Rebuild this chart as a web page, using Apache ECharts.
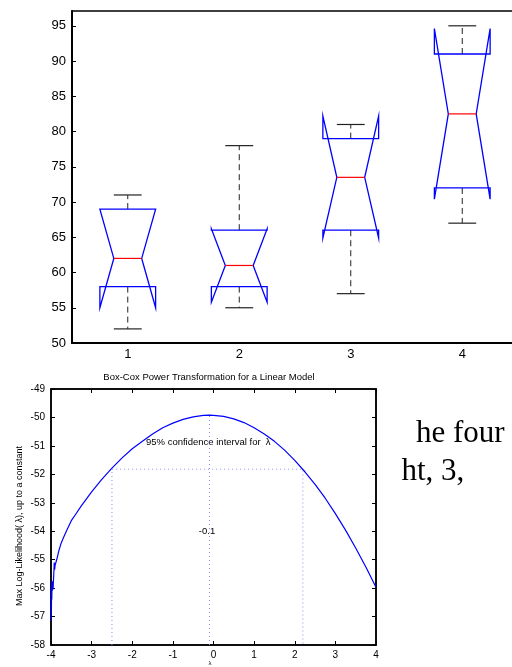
<!DOCTYPE html>
<html><head><meta charset="utf-8">
<script src="https://cdn.jsdelivr.net/npm/echarts@6/dist/echarts.min.js"></script>
<style>html,body{margin:0;padding:0;background:#fff}#c{width:512px;height:667px}</style>
</head><body><div id="c"></div>
<script>
// ---- Top chart: notched box plot ----
const categories = ['1', '2', '3', '4'];
const lowerWhisker = [52, 55, 57, 67];
const q1 = [58, 58, 66, 72];
const median = [62, 61, 73.5, 82.5];
const q3 = [69, 66, 79, 91];
const upperWhisker = [71, 78, 81, 95];
const notchLow = [55, 55.8, 64.9, 70.4];
const notchHigh = [69, 66.2, 82.2, 94.6];

// ---- Bottom chart: Box-Cox profile log-likelihood ----
const lambda = [-4.00, -3.995, -3.99, -3.985, -3.98, -3.975, -3.97, -3.96, -3.95, -3.94, -3.93, -3.92, -3.91, -3.90, -3.88, -3.85, -3.80, -3.75, -3.70, -3.60, -3.50, -3.40, -3.25, -3.00, -2.75, -2.50, -2.25, -2.00, -1.75, -1.50, -1.25, -1.00, -0.75, -0.50, -0.25, -0.10, 0.00, 0.25, 0.50, 0.75, 1.00, 1.25, 1.50, 1.75, 2.00, 2.25, 2.50, 2.75, 3.00, 3.25, 3.50, 3.75, 4.00];
const logLik = [-57.15, -56.0, -56.9, -55.8, -56.4, -55.75, -56.1, -55.8, -56.05, -55.75, -55.45, -55.1, -55.35, -55.2, -55.1, -54.95, -54.65, -54.42, -54.25, -53.93, -53.63, -53.42, -53.1, -52.62, -52.18, -51.78, -51.42, -51.1, -50.84, -50.58, -50.36, -50.2, -50.07, -49.98, -49.93, -49.92, -49.925, -49.96, -50.05, -50.18, -50.36, -50.58, -50.84, -51.15, -51.51, -51.91, -52.35, -52.84, -53.38, -53.96, -54.59, -55.26, -55.97];
const ciLow = -2.5;
const ciHigh = 2.2;
const ciLevel = -51.82;
const lambdaHat = -0.1;
const maxLogLik = -49.92;
const yMinBC = -58, yMaxBC = -49;

const chart = echarts.init(document.getElementById('c'), null, {renderer: 'canvas'});
const FONT = 'Liberation Sans, Arial, Helvetica, sans-serif';

function renderBox(params, api) {
  const i = api.value(0);
  const band = api.size([1, 0])[0];
  const cx = api.coord([i, api.value(3)])[0];
  const w = band * 0.25, n = band * 0.125, cap = band * 0.125;
  const y = v => api.coord([i, v])[1];
  const wlo = api.value(1), bq1 = api.value(2), med = api.value(3), bq3 = api.value(4), whi = api.value(5), nlo = api.value(6), nhi = api.value(7);
  const blue = {fill: 'none', stroke: '#0000ff', lineWidth: 1.3};
  const dash = {stroke: '#222', lineWidth: 1, lineDash: [6, 4]};
  const solid = {stroke: '#222', lineWidth: 1.2};
  return {
    type: 'group',
    children: [
      {type: 'line', shape: {x1: cx, y1: y(bq3), x2: cx, y2: y(whi)}, style: dash},
      {type: 'line', shape: {x1: cx, y1: y(bq1), x2: cx, y2: y(wlo)}, style: dash},
      {type: 'line', shape: {x1: cx - cap, y1: y(whi), x2: cx + cap, y2: y(whi)}, style: solid},
      {type: 'line', shape: {x1: cx - cap, y1: y(wlo), x2: cx + cap, y2: y(wlo)}, style: solid},
      {type: 'polygon', shape: {points: [
        [cx - w, y(bq1)], [cx - w, y(nlo)], [cx - n, y(med)], [cx - w, y(nhi)], [cx - w, y(bq3)],
        [cx + w, y(bq3)], [cx + w, y(nhi)], [cx + n, y(med)], [cx + w, y(nlo)], [cx + w, y(bq1)]
      ]}, style: blue},
      {type: 'line', shape: {x1: cx - n, y1: y(med), x2: cx + n, y2: y(med)}, style: {stroke: '#ff0000', lineWidth: 1.2}}
    ]
  };
}

const boxData = categories.map((c, i) => [i, lowerWhisker[i], q1[i], median[i], q3[i], upperWhisker[i], notchLow[i], notchHigh[i]]);

const axisLineBlack = (w) => ({show: true, onZero: false, lineStyle: {color: '#000', width: w}});

const option = {
  animation: false,
  backgroundColor: '#fff',
  grid: [
    {left: 72, top: 11, width: 446, height: 332, show: true, borderColor: '#000', borderWidth: 1.5, backgroundColor: 'transparent', containLabel: false, outerBoundsMode: 'none'},
    {left: 51, top: 389, width: 325, height: 256, show: true, borderColor: '#000', borderWidth: 1.5, backgroundColor: 'transparent', containLabel: false, outerBoundsMode: 'none'}
  ],
  xAxis: [
    {gridIndex: 0, type: 'category', data: categories, boundaryGap: true,
     axisLine: axisLineBlack(2), axisTick: {show: false},
     axisLabel: {color: '#000', fontSize: 13, fontFamily: FONT, margin: 5}, splitLine: {show: false}},
    {gridIndex: 1, type: 'value', min: -4, max: 4, interval: 1, position: 'bottom',
     axisLine: axisLineBlack(1.5), axisTick: {show: true, inside: true, length: 4, lineStyle: {color: '#000'}},
     axisLabel: {color: '#000', fontSize: 10, fontFamily: FONT, margin: 5}, splitLine: {show: false}},
    {gridIndex: 1, type: 'value', min: -4, max: 4, interval: 1, position: 'top',
     axisLine: axisLineBlack(1.5), axisTick: {show: true, inside: true, length: 4, lineStyle: {color: '#000'}},
     axisLabel: {show: false}, splitLine: {show: false}}
  ],
  yAxis: [
    {gridIndex: 0, type: 'value', min: 50, max: 97.1, interval: 5,
     axisLine: axisLineBlack(2), axisTick: {show: true, inside: true, length: 4, lineStyle: {color: '#000'}},
     axisLabel: {color: '#000', fontSize: 13, fontFamily: FONT, margin: 6, showMaxLabel: false,
       formatter: v => (v % 5 === 0 ? String(v) : '')}, splitLine: {show: false}},
    {gridIndex: 1, type: 'value', min: yMinBC, max: yMaxBC, interval: 1, position: 'left',
     axisLine: axisLineBlack(1.5), axisTick: {show: true, inside: true, length: 4, lineStyle: {color: '#000'}},
     axisLabel: {color: '#000', fontSize: 10, fontFamily: FONT, margin: 6}, splitLine: {show: false}},
    {gridIndex: 1, type: 'value', min: yMinBC, max: yMaxBC, interval: 1, position: 'right',
     axisLine: axisLineBlack(1.5), axisTick: {show: true, inside: true, length: 4, lineStyle: {color: '#000'}},
     axisLabel: {show: false}, splitLine: {show: false}}
  ],
  series: [
    {type: 'custom', xAxisIndex: 0, yAxisIndex: 0, data: boxData, renderItem: renderBox,
     encode: {x: 0, y: [1, 2, 3, 4, 5, 6, 7]}, clip: false, silent: true},
    {type: 'line', xAxisIndex: 1, yAxisIndex: 1, showSymbol: false, symbol: 'none',
     data: [[ciLow, yMinBC], [ciLow, ciLevel], [ciHigh, ciLevel], [ciHigh, yMinBC]],
     lineStyle: {color: '#8a8aff', width: 1, type: [1, 3]}, silent: true},
    {type: 'line', xAxisIndex: 1, yAxisIndex: 1, showSymbol: false, symbol: 'none',
     data: [[lambdaHat, yMinBC], [lambdaHat, maxLogLik]],
     lineStyle: {color: '#8a8aff', width: 1, type: [1, 3]}, silent: true},
    {type: 'line', xAxisIndex: 1, yAxisIndex: 1, showSymbol: false, symbol: 'none',
     data: lambda.map((l, i) => [l, logLik[i]]),
     lineStyle: {color: '#0000ff', width: 1.2}, silent: true, clip: true}
  ],
  graphic: [
    {type: 'text', x: 209, y: 377, silent: true,
     style: {text: 'Box-Cox Power Transformation for a Linear Model', fontSize: 9.5, fontFamily: FONT, fill: '#000', align: 'center', verticalAlign: 'middle'}},
    {type: 'text', x: 146, y: 442, silent: true,
     style: {text: '95% confidence interval for  λ', fontSize: 9.5, fontFamily: FONT, fill: '#000', align: 'left', verticalAlign: 'middle'}},
    {type: 'text', x: 207, y: 531, silent: true,
     style: {text: '-0.1', fontSize: 9.5, fontFamily: FONT, fill: '#000', align: 'center', verticalAlign: 'middle'}},
    {type: 'text', x: 20, y: 526, rotation: Math.PI / 2, silent: true,
     style: {text: 'Max Log-Likelihood( λ), up to a constant', fontSize: 9, fontFamily: FONT, fill: '#000', align: 'center', verticalAlign: 'middle'}},
    {type: 'text', x: 210, y: 663, silent: true,
     style: {text: 'λ', fontSize: 6, fontFamily: FONT, fill: '#000', align: 'center', verticalAlign: 'middle'}},
    {type: 'text', x: 416, y: 434, silent: true,
     style: {text: 'he four', fontSize: 31, fontFamily: 'Liberation Serif, Times New Roman, serif', fill: '#000', align: 'left', verticalAlign: 'middle'}},
    {type: 'text', x: 401.5, y: 472, silent: true,
     style: {text: 'ht, 3,', fontSize: 31, fontFamily: 'Liberation Serif, Times New Roman, serif', fill: '#000', align: 'left', verticalAlign: 'middle'}}
  ]
};
chart.setOption(option);
</script>
</body></html>
